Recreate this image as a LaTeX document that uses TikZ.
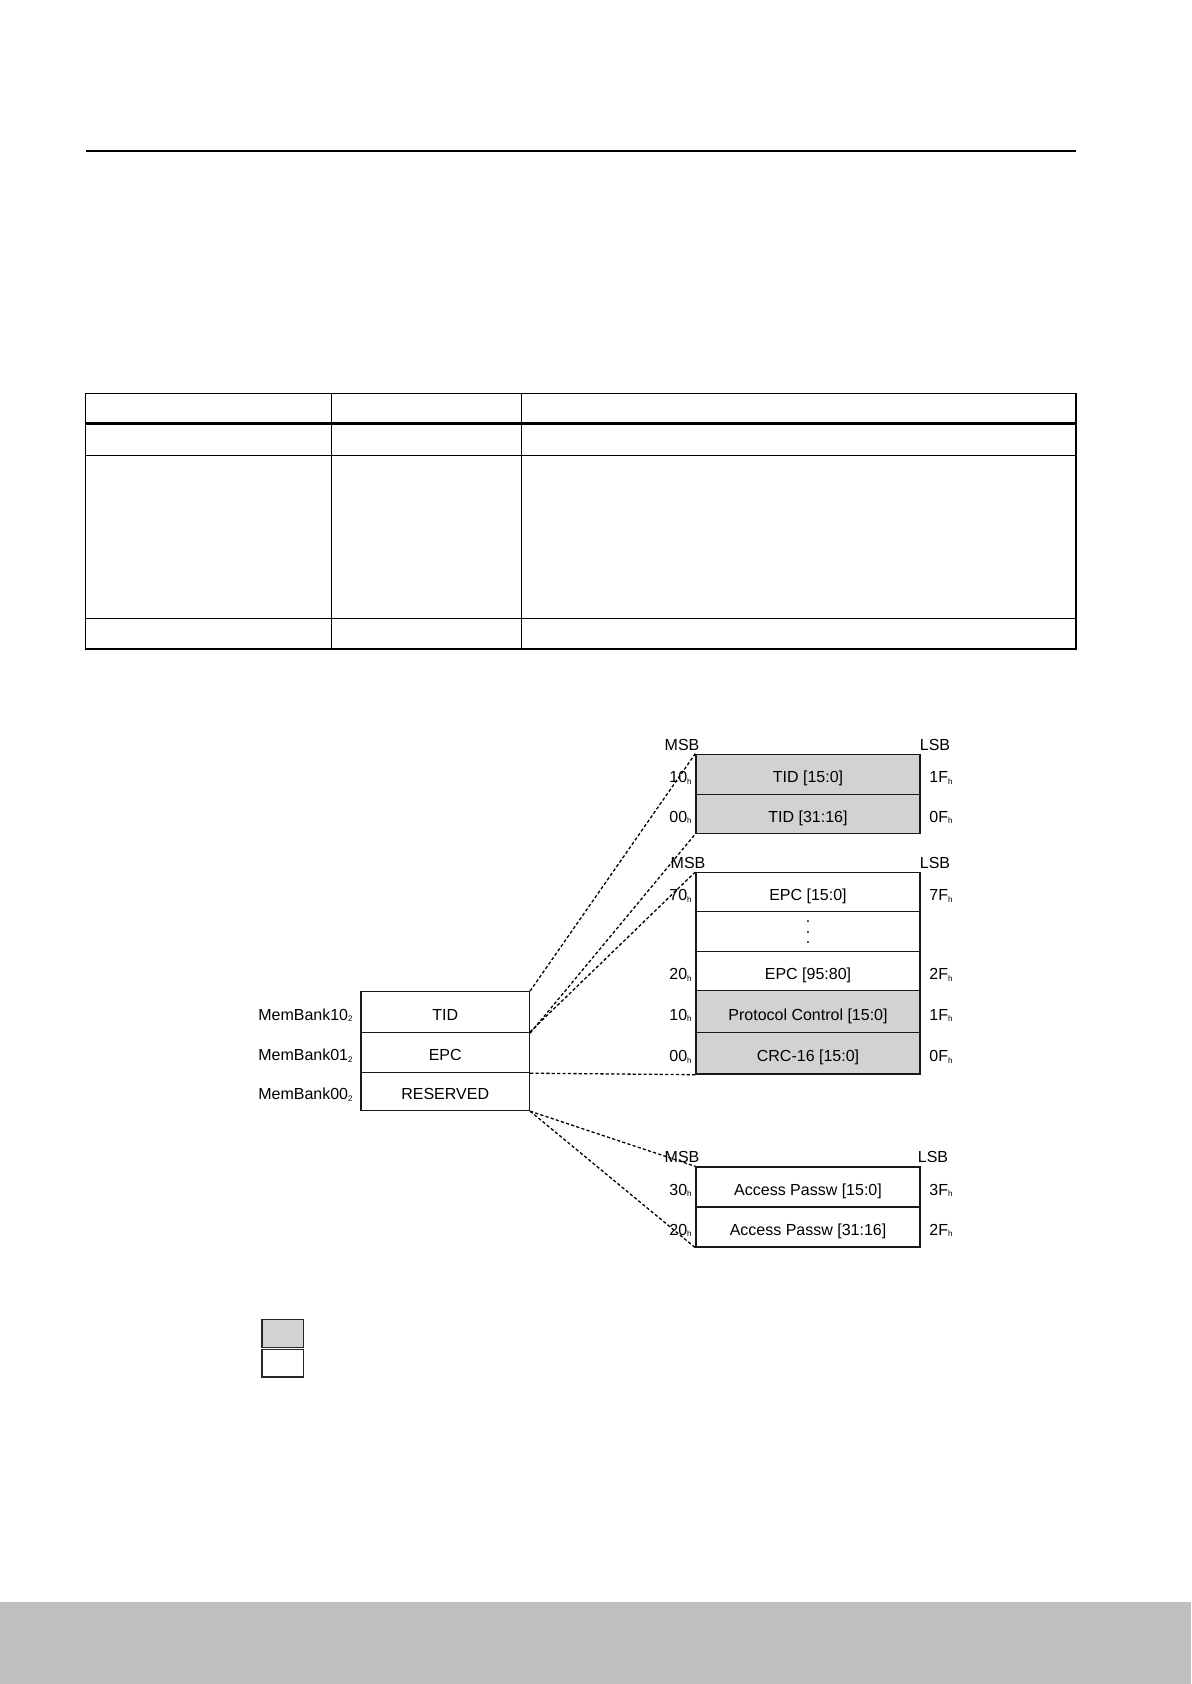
\documentclass[tikz,border=0pt]{standalone}
\usepackage{fontspec}
\setmainfont{Liberation Sans}
\definecolor{cellgray}{RGB}{210,210,210}
\definecolor{bandgray}{RGB}{191,191,191}
\newcommand\subx[1]{\raisebox{-0.7pt}{\fontsize{4}{4}\selectfont #1}}
\begin{document}
\begin{tikzpicture}[x=0.5pt,y=-0.5pt,
  cell/.style={draw=black!90, line width=0.7pt, inner sep=0pt, minimum width=112pt, font=\fontsize{8}{9.6}\selectfont, text height=9pt, text depth=0.6pt},
  memcell/.style={cell, minimum width=84.2pt},
  shade/.style={fill=cellgray},
  lbl/.style={inner sep=0pt, font=\fontsize{8}{9.6}\selectfont, text height=9pt, text depth=0.6pt},
  dotlbl/.style={inner sep=0pt, font=\fontsize{8}{9.6}\selectfont},
  link/.style={line width=0.65pt, dash pattern=on 1.6pt off 1.1pt},
  rule/.style={line width=0.55pt},
  legbox/.style={draw=black!85, line width=0.8pt, inner sep=0pt, minimum width=20.8pt}
]
\useasboundingbox (0,0) rectangle (1191,1684);
\fill[white] (0,0) rectangle (1191,1684);

% top rule
\draw[rule] (86,151) -- (1076,151);

% table
\draw[rule] (85.5,393.5) rectangle (1076,649);
\draw[rule] (331.5,393.5) -- (331.5,649);
\draw[rule] (521.7,393.5) -- (521.7,649);
\draw[line width=1.4pt] (85.5,423.3) -- (1076,423.3);
\draw[rule] (85.5,455.5) -- (1076,455.5);
\draw[rule] (85.5,618.3) -- (1076,618.3);

% memory bank box
\node[memcell,minimum height=20.4pt] (memT) at (445.2,1012.1) {TID};
\node[memcell,minimum height=20pt] (memE) at (445.2,1052.5) {EPC};
\node[memcell,minimum height=19pt] (memR) at (445.2,1091.5) {RESERVED};
\node[lbl,anchor=east] at (353,1012.1) {MemBank10\subx{2}};
\node[lbl,anchor=east] at (353,1052.5) {MemBank01\subx{2}};
\node[lbl,anchor=east] at (353,1091.5) {MemBank00\subx{2}};

% TID detail
\node[cell,shade,minimum height=20pt] (tidA) at (808,774.3) {TID [15:0]};
\node[cell,shade,minimum height=19.5pt] (tidB) at (808,813.8) {TID [31:16]};
\node[lbl] at (682,742.5) {MSB};
\node[lbl] at (935,742.5) {LSB};
\node[lbl,anchor=east] at (692,774.3) {10\subx{h}};
\node[lbl,anchor=east] at (692,813.8) {00\subx{h}};
\node[lbl,anchor=west] at (929,774.3) {1F\subx{h}};
\node[lbl,anchor=west] at (929,813.8) {0F\subx{h}};

% EPC detail
\node[cell,minimum height=19.5pt] (epcA) at (808,892.2) {EPC [15:0]};
\node[cell,minimum height=20pt] (epcB) at (808,931.7) {};
\node[dotlbl] (dot1) at (808,921.7) {.};
\node[dotlbl] (dot2) at (808,932.3) {.};
\node[dotlbl] (dot3) at (808,943) {.};
\node[cell,minimum height=19.5pt] (epcC) at (808,971.2) {EPC [95:80]};
\node[cell,shade,minimum height=21pt] (epcD) at (808,1011.7) {Protocol Control [15:0]};
\node[cell,shade,minimum height=20.65pt] (epcE) at (808,1053.35) {CRC-16 [15:0]};
\node[lbl] at (688,860.5) {MSB};
\node[lbl] at (935,860.5) {LSB};
\node[lbl,anchor=east] at (692,892.2) {70\subx{h}};
\node[lbl,anchor=east] at (692,971.2) {20\subx{h}};
\node[lbl,anchor=east] at (692,1011.7) {10\subx{h}};
\node[lbl,anchor=east] at (692,1053.35) {00\subx{h}};
\node[lbl,anchor=west] at (929,892.2) {7F\subx{h}};
\node[lbl,anchor=west] at (929,971.2) {2F\subx{h}};
\node[lbl,anchor=west] at (929,1011.7) {1F\subx{h}};
\node[lbl,anchor=west] at (929,1053.35) {0F\subx{h}};

% Reserved detail
\node[cell,minimum height=20pt] (pwA) at (808,1187) {Access Passw [15:0]};
\node[cell,minimum height=20pt] (pwB) at (808,1227) {Access Passw [31:16]};
\node[lbl] at (682,1154.5) {MSB};
\node[lbl] at (933,1154.5) {LSB};
\node[lbl,anchor=east] at (692,1187) {30\subx{h}};
\node[lbl,anchor=east] at (692,1227) {20\subx{h}};
\node[lbl,anchor=west] at (929,1187) {3F\subx{h}};
\node[lbl,anchor=west] at (929,1227) {2F\subx{h}};

% dashed links
\draw[link] (memT.north east) -- (tidA.north west);
\draw[link] (memT.south east) -- (tidB.south west);
\draw[link] (memE.north east) -- (epcA.north west);
\draw[link] (memE.south east) -- (epcE.south west);
\draw[link] (memR.south east) -- (pwA.north west);
\draw[link] (memR.south east) -- (pwB.south west);

% legend
\node[legbox,fill=cellgray,minimum height=14pt] (legG) at (282.5,1333.3) {};
\node[legbox,fill=white,minimum height=13.7pt] (legW) at (282.5,1363) {};

% bottom band
\fill[bandgray] (0,1601.7) rectangle (1191,1684);
\end{tikzpicture}
\end{document}
